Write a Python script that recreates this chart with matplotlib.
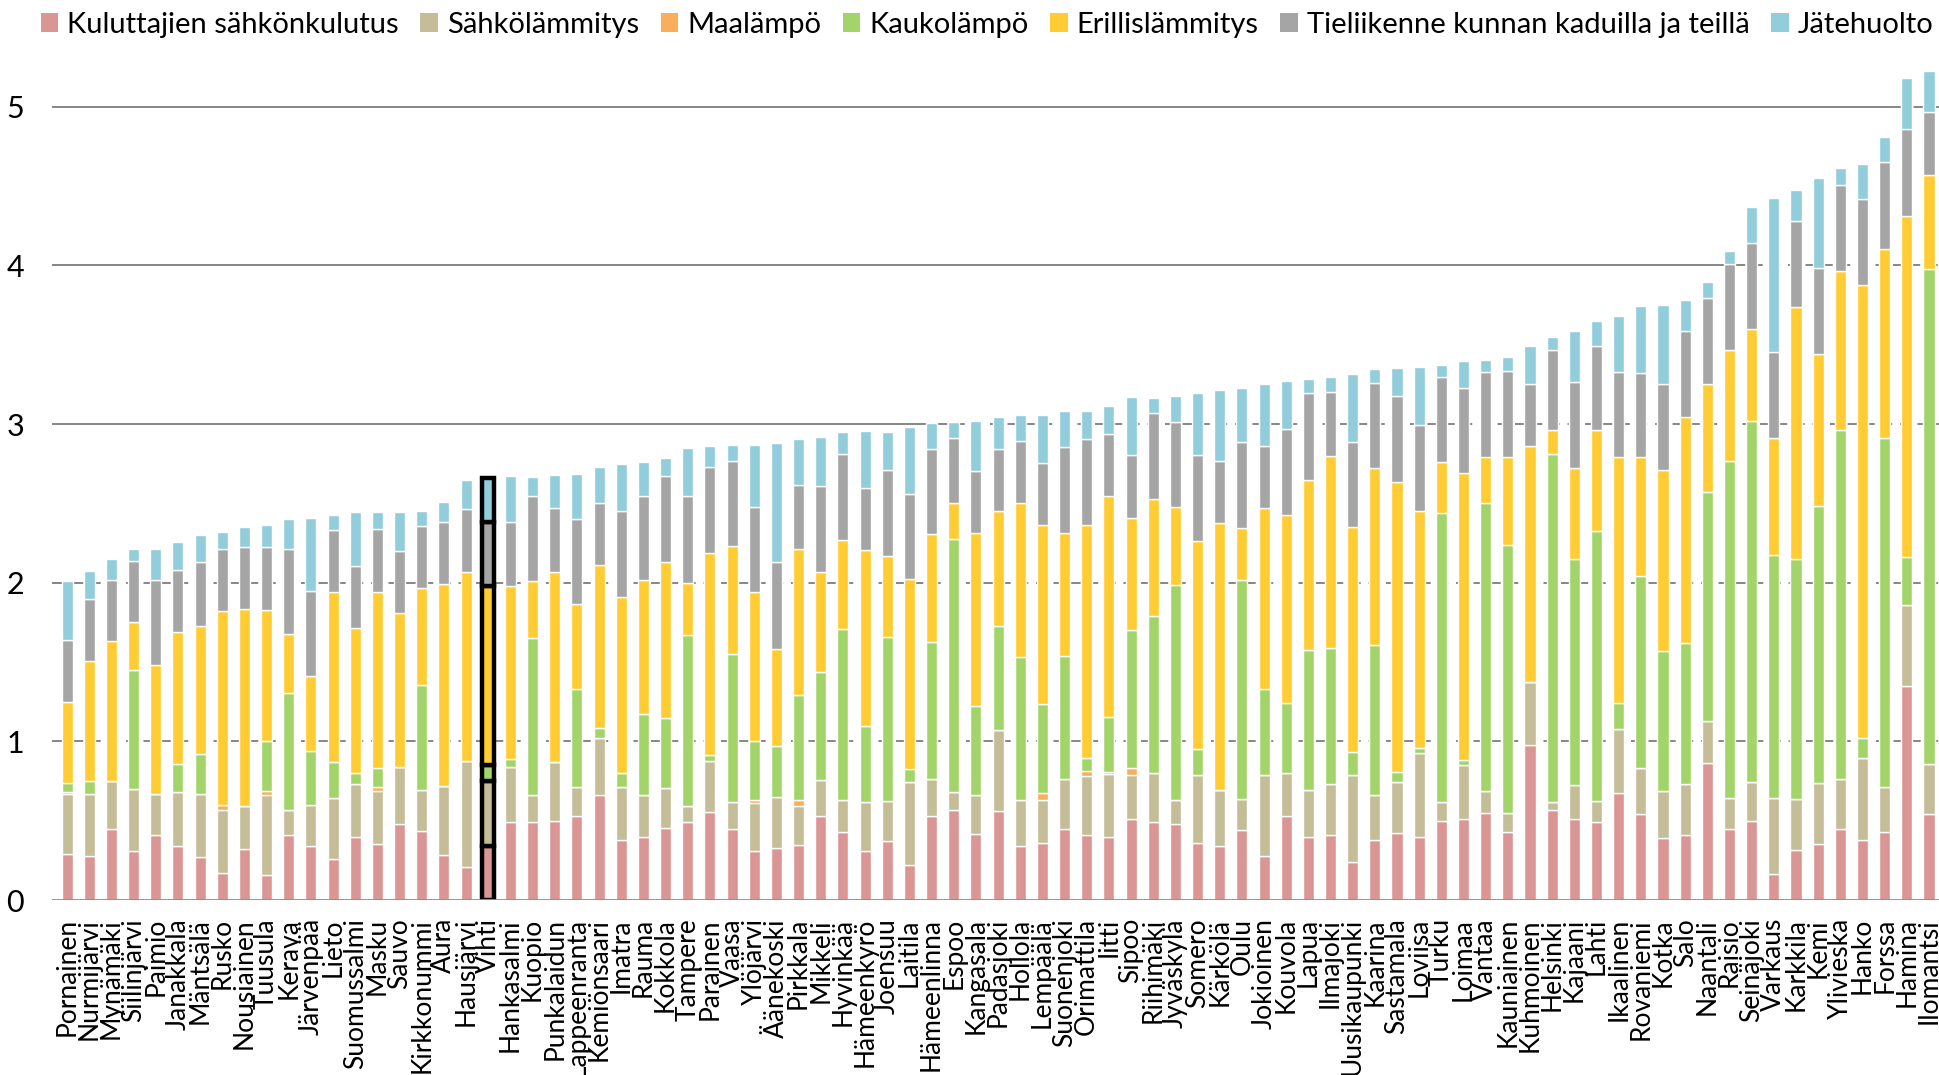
import matplotlib
matplotlib.use("Agg")
import matplotlib.pyplot as plt
from matplotlib.patches import Patch
import numpy as np

plt.rcParams['font.family'] = ['Lato', 'DejaVu Sans']

municipalities = [
    "Pornainen", "Nurmijärvi", "Mynämäki", "Siilinjärvi", "Paimio", "Janakkala", "Mäntsälä",
    "Rusko", "Nousiainen", "Tuusula", "Kerava", "Järvenpää", "Lieto", "Suomussalmi", "Masku",
    "Sauvo", "Kirkkonummi", "Aura", "Hausjärvi", "Vihti", "Hankasalmi", "Kuopio", "Punkalaidun",
    "Lappeenranta", "Kemiönsaari", "Imatra", "Rauma", "Kokkola", "Tampere", "Parainen", "Vaasa",
    "Ylöjärvi", "Äänekoski", "Pirkkala", "Mikkeli", "Hyvinkää", "Hämeenkyrö", "Joensuu", "Laitila",
    "Hämeenlinna", "Espoo", "Kangasala", "Padasjoki", "Hollola", "Lempäälä", "Suonenjoki",
    "Orimattila", "Iitti", "Sipoo", "Riihimäki", "Jyväskylä", "Somero", "Kärkölä", "Oulu",
    "Jokioinen", "Kouvola", "Lapua", "Ilmajoki", "Uusikaupunki", "Kaarina", "Sastamala", "Loviisa",
    "Turku", "Loimaa", "Vantaa", "Kauniainen", "Kuhmoinen", "Helsinki", "Kajaani", "Lahti",
    "Ikaalinen", "Rovaniemi", "Kotka", "Salo", "Naantali", "Raisio", "Seinäjoki", "Varkaus",
    "Karkkila", "Kemi", "Ylivieska", "Hanko", "Forssa", "Hamina", "Ilomantsi",
]

kuluttajien_sahkonkulutus = [
    0.29, 0.28, 0.45, 0.31, 0.41, 0.34, 0.27, 0.17, 0.32, 0.155, 0.41, 0.34, 0.26, 0.40, 0.35,
    0.48, 0.435, 0.285, 0.21, 0.34, 0.49, 0.49, 0.50, 0.53, 0.66, 0.38, 0.40, 0.455, 0.49, 0.555,
    0.45, 0.31, 0.33, 0.345, 0.53, 0.43, 0.31, 0.37, 0.22, 0.53, 0.57, 0.415, 0.56, 0.34, 0.36,
    0.45, 0.41, 0.40, 0.51, 0.49, 0.48, 0.36, 0.34, 0.44, 0.28, 0.53, 0.40, 0.41, 0.24, 0.38,
    0.42, 0.395, 0.50, 0.51, 0.55, 0.43, 0.975, 0.57, 0.51, 0.49, 0.675, 0.54, 0.39, 0.41, 0.865,
    0.445, 0.50, 0.165, 0.315, 0.35, 0.45, 0.38, 0.43, 1.35, 0.545,
]
sahkolammitys = [
    0.38, 0.39, 0.30, 0.39, 0.26, 0.34, 0.40, 0.40, 0.27, 0.51, 0.16, 0.26, 0.38, 0.33, 0.34,
    0.36, 0.26, 0.435, 0.665, 0.41, 0.35, 0.17, 0.37, 0.18, 0.36, 0.335, 0.26, 0.25, 0.10, 0.32,
    0.17, 0.30, 0.32, 0.245, 0.225, 0.20, 0.31, 0.255, 0.525, 0.235, 0.11, 0.245, 0.51, 0.29, 0.27,
    0.315, 0.37, 0.395, 0.28, 0.31, 0.15, 0.425, 0.355, 0.195, 0.505, 0.27, 0.295, 0.32, 0.55, 0.285,
    0.325, 0.53, 0.12, 0.34, 0.14, 0.12, 0.40, 0.05, 0.215, 0.135, 0.405, 0.295, 0.30, 0.32, 0.265,
    0.195, 0.245, 0.475, 0.32, 0.39, 0.315, 0.515, 0.28, 0.51, 0.31,
]
maalampo = [
    0.01, 0, 0, 0, 0, 0, 0, 0.03, 0, 0.02, 0, 0, 0, 0, 0.02,
    0, 0, 0, 0, 0, 0, 0, 0, 0, 0, 0, 0, 0, 0, 0,
    0, 0.02, 0, 0.04, 0, 0, 0, 0, 0, 0, 0, 0, 0, 0, 0.045,
    0, 0.035, 0.01, 0.045, 0, 0, 0, 0, 0, 0, 0, 0, 0, 0, 0,
    0, 0, 0, 0, 0, 0, 0, 0, 0, 0, 0, 0, 0, 0, 0,
    0, 0, 0, 0, 0, 0, 0, 0, 0, 0,
]
kaukolampo = [
    0.06, 0.08, 0, 0.75, 0, 0.18, 0.25, 0, 0, 0.315, 0.735, 0.34, 0.23, 0.07, 0.12,
    0, 0.66, 0, 0, 0.10, 0.05, 0.99, 0, 0.62, 0.065, 0.085, 0.51, 0.44, 1.08, 0.04,
    0.93, 0.37, 0.32, 0.665, 0.68, 1.08, 0.48, 1.035, 0.08, 0.86, 1.595, 0.56, 0.655, 0.90, 0.56,
    0.775, 0.08, 0.35, 0.865, 0.99, 1.355, 0.17, 0, 1.38, 0.545, 0.44, 0.88, 0.86, 0.14, 0.945,
    0.065, 0.035, 1.82, 0.03, 1.81, 1.69, 0, 2.19, 1.425, 1.70, 0.16, 1.21, 0.88, 0.89, 1.44,
    2.13, 2.275, 1.535, 1.515, 1.745, 2.20, 0.125, 2.20, 0.30, 3.12,
]
erillislammitys = [
    0.51, 0.755, 0.88, 0.30, 0.81, 0.83, 0.81, 1.22, 1.245, 0.83, 0.37, 0.47, 1.07, 0.915, 1.11,
    0.97, 0.61, 1.275, 1.19, 1.13, 1.09, 0.36, 1.20, 0.535, 1.025, 1.11, 0.845, 0.985, 0.33, 1.27,
    0.68, 0.94, 0.61, 0.92, 0.63, 0.56, 1.105, 0.51, 1.20, 0.68, 0.23, 1.095, 0.73, 0.97, 1.13,
    0.775, 1.47, 1.39, 0.71, 0.74, 0.49, 1.31, 1.68, 0.33, 1.14, 1.19, 1.075, 1.21, 1.42, 1.115,
    1.825, 1.49, 0.32, 1.81, 0.29, 0.555, 1.485, 0.15, 0.575, 0.635, 1.555, 0.745, 1.14, 1.425, 0.685,
    0.695, 0.58, 0.74, 1.59, 0.955, 1.0, 2.86, 1.195, 2.155, 0.595,
]
tieliikenne = [
    0.39, 0.39, 0.39, 0.39, 0.54, 0.39, 0.40, 0.39, 0.39, 0.395, 0.54, 0.54, 0.39, 0.39, 0.40,
    0.39, 0.39, 0.39, 0.40, 0.40, 0.40, 0.54, 0.40, 0.54, 0.39, 0.54, 0.535, 0.54, 0.545, 0.545,
    0.54, 0.54, 0.55, 0.40, 0.545, 0.54, 0.39, 0.54, 0.535, 0.54, 0.41, 0.39, 0.39, 0.395, 0.39,
    0.54, 0.54, 0.39, 0.395, 0.54, 0.54, 0.54, 0.395, 0.545, 0.395, 0.54, 0.545, 0.40, 0.535, 0.535,
    0.54, 0.545, 0.535, 0.54, 0.54, 0.54, 0.395, 0.505, 0.54, 0.535, 0.535, 0.535, 0.54, 0.545, 0.54,
    0.545, 0.54, 0.54, 0.54, 0.545, 0.545, 0.54, 0.545, 0.545, 0.395,
]
jatehuolto = [
    0.37, 0.18, 0.13, 0.07, 0.19, 0.175, 0.17, 0.11, 0.125, 0.14, 0.185, 0.46, 0.10, 0.34, 0.105,
    0.245, 0.10, 0.125, 0.18, 0.28, 0.29, 0.115, 0.21, 0.28, 0.23, 0.30, 0.21, 0.115, 0.305, 0.13,
    0.10, 0.39, 0.75, 0.29, 0.31, 0.14, 0.36, 0.24, 0.42, 0.16, 0.10, 0.315, 0.20, 0.16, 0.30,
    0.23, 0.18, 0.18, 0.365, 0.095, 0.165, 0.39, 0.445, 0.34, 0.39, 0.30, 0.09, 0.10, 0.43, 0.09,
    0.18, 0.365, 0.08, 0.17, 0.075, 0.085, 0.235, 0.085, 0.32, 0.155, 0.35, 0.42, 0.50, 0.19, 0.10,
    0.08, 0.23, 0.97, 0.195, 0.565, 0.105, 0.22, 0.16, 0.32, 0.26,
]

series_names = [
    "Kuluttajien sähkönkulutus", "Sähkölämmitys", "Maalämpö", "Kaukolämpö",
    "Erillislämmitys", "Tieliikenne kunnan kaduilla ja teillä", "Jätehuolto",
]
series_values = [
    kuluttajien_sahkonkulutus, sahkolammitys, maalampo, kaukolampo,
    erillislammitys, tieliikenne, jatehuolto,
]
series_colors = ["#D99694", "#C4BD97", "#F9AE5B", "#A3D46A", "#FFCD33", "#A5A5A5", "#92CDDC"]

highlight = "Vihti"
ytick_values = [0, 1, 2, 3, 4, 5]

W, H = 1939, 1075
fig = plt.figure(figsize=(W / 100, H / 100), dpi=100)
ax_left, ax_right = 52 / W, 1.0
ax_bottom, ax_top = 1 - 900 / H, 1 - 45 / H
ax = fig.add_axes([ax_left, ax_bottom, ax_right - ax_left, ax_top - ax_bottom])

n = len(municipalities)
x = np.arange(n)
bar_w = 0.5
bottom = np.zeros(n)
hi = municipalities.index(highlight)
for name, vals, col in zip(series_names, series_values, series_colors):
    v = np.array(vals, dtype=float)
    ax.bar(x, v, bar_w, bottom=bottom, color=col, edgecolor="white",
           linewidth=1.0, zorder=3, label=name)
    if v[hi] > 0:
        # outlined segments for the highlighted municipality
        ax.bar(x[hi], v[hi], bar_w + 0.06, bottom=bottom[hi], color=col,
               edgecolor="black", linewidth=3.2, zorder=4)
    bottom += v

totals = bottom
xmin, xmax = -0.68, n - 1 + 0.45
ax.set_xlim(xmin, xmax)
ax.set_ylim(0, 5.39)

# gridlines: solid while they run above the bars, dashed once the bars pass them
for level in ytick_values[1:]:
    above = np.nonzero(totals > level)[0]
    split = above[0] - 0.5 if len(above) else xmax
    split = max(split, xmin)
    if split > xmin:
        ax.hlines(level, xmin, split, colors="#868686", linewidth=1.4, zorder=1)
    if split < xmax:
        ax.hlines(level, split, xmax, colors="#868686", linewidth=1.4,
                  linestyles=(0, (5, 4)), zorder=1)
ax.axhline(0, color="#8C8C8C", linewidth=2.0, zorder=5)

for s in ax.spines.values():
    s.set_visible(False)

ax.set_yticks(ytick_values)
ax.set_yticklabels([str(t) for t in ytick_values], fontsize=22)
ax.set_xticks(x)
ax.set_xticklabels(municipalities, rotation=90, fontsize=19)
ax.tick_params(axis="both", length=0)
ax.tick_params(axis="y", pad=20)
ax.tick_params(axis="x", pad=13)

handles = [Patch(facecolor=c, edgecolor="none") for c in series_colors]
fig.legend(handles, series_names, loc="center", bbox_to_anchor=(0.509, 1 - 25 / H),
           ncol=7, frameon=False, fontsize=21, handlelength=0.6, handleheight=0.6,
           handletextpad=0.3, columnspacing=0.75, borderaxespad=0, borderpad=0)

fig.savefig("out.png", dpi=100)
